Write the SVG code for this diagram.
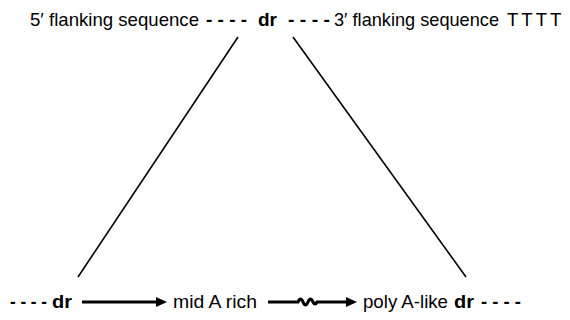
<svg xmlns="http://www.w3.org/2000/svg" width="570" height="320" viewBox="0 0 570 320">
<style>
text{font-family:"Liberation Sans",Arial,sans-serif;font-size:18.6px;fill:#000}
.b{font-weight:bold}
.ln{stroke:#000;stroke-width:1.6;fill:none}
.ar{stroke:#000;stroke-width:3.2;fill:none}
</style>
<rect width="570" height="320" fill="#fff"/>
<g id="top">
<text x="30" y="26" textLength="169" lengthAdjust="spacingAndGlyphs">5′ flanking sequence</text>
<text class="b" x="206" y="26" textLength="41" lengthAdjust="spacingAndGlyphs">- - - -</text>
<text class="b" x="258" y="26" textLength="19" lengthAdjust="spacingAndGlyphs">dr</text>
<text class="b" x="288" y="26" textLength="42" lengthAdjust="spacingAndGlyphs">- - - -</text>
<text x="334" y="26" textLength="165" lengthAdjust="spacingAndGlyphs">3′ flanking sequence</text>
<text x="507" y="26" letter-spacing="3">TTTT</text>
</g>
<g id="bottom">
<text class="b" x="10" y="308" textLength="37" lengthAdjust="spacingAndGlyphs">- - - -</text>
<text class="b" x="52" y="308" textLength="20" lengthAdjust="spacingAndGlyphs">dr</text>
<text x="173" y="308" textLength="84" lengthAdjust="spacingAndGlyphs">mid A rich</text>
<text x="363" y="308" textLength="85" lengthAdjust="spacingAndGlyphs">poly A-like</text>
<text class="b" x="454" y="308" textLength="20" lengthAdjust="spacingAndGlyphs">dr</text>
<text class="b" x="481" y="308" textLength="40" lengthAdjust="spacingAndGlyphs">- - - -</text>
</g>
<g id="connectors">
<line class="ln" x1="238" y1="37" x2="78" y2="277"/>
<line class="ln" x1="293" y1="37" x2="466" y2="277"/>
<line class="ar" x1="82" y1="302" x2="158" y2="302"/>
<polygon points="156,297 167,302 156,307"/>
<path class="ar" d="M268,302 H298 q2.5,-6 5,0 q2.5,6 5,0 q2.5,-6 5,0 q2,4 4,0 H348"/>
<polygon points="346,297 357,302 346,307"/>
</g>
</svg>
